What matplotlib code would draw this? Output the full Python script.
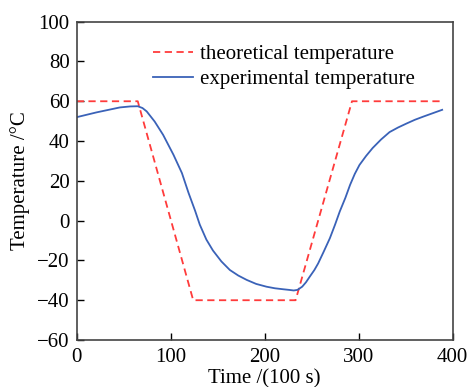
import matplotlib.pyplot as plt

# theoretical (set-point) temperature profile
t_theory = [0, 65, 124, 233, 293, 390]
T_theory = [60, 60, -40, -40, 60, 60]

t_exp = [0, 21, 46, 57, 65, 70, 74.5, 83, 92, 103, 112, 119, 126, 131, 138, 145,
         154, 163, 172, 181, 191, 202, 211, 220, 226, 231, 235, 240, 244, 248,
         253, 257, 263, 269.5, 275, 280, 286, 291, 296, 301, 308, 315, 324, 333,
         342, 351, 360, 369, 379, 389]
T_exp = [52.0, 54.4, 56.9, 57.4, 57.5, 56.6, 54.9, 49.8, 43.1, 33.1, 23.9, 14.0,
         5.0, -2.0, -9.5, -15.0, -20.5, -24.8, -27.6, -29.8, -31.8, -33.2, -34.0,
         -34.5, -34.8, -35.1, -34.8, -33.2, -31.0, -28.2, -24.8, -21.5, -15.5,
         -8.8, -2.0, 4.6, 11.5, 18.0, 23.5, 28.0, 32.5, 36.5, 40.8, 44.5, 46.8,
         48.8, 50.7, 52.3, 54.0, 55.7]

plt.rcParams['font.family'] = ['Liberation Serif', 'DejaVu Serif']

fig = plt.figure(figsize=(4.72, 3.87), dpi=100)
ax = fig.add_axes([0.1625, 0.1214, 0.7962, 0.8226])

ax.plot(t_theory, T_theory, "--", color="#ff3b3b", lw=1.3, dashes=(4, 2.5),
        label="theoretical temperature")
ax.plot(t_exp, T_exp, "-", color="#3a62b8", lw=1.3, label="experimental temperature")

ax.set_xlim(0, 400)
ax.set_ylim(-60, 100)
ax.set_xticks([0, 100, 200, 300, 400])
ax.set_yticks(range(-60, 101, 20))
ax.tick_params(direction="in", length=5, width=1, labelsize=15, top=False, right=False)
ax.tick_params(axis="x", pad=6)
ax.tick_params(axis="y", pad=5)
ax.set_yticklabels([str(v).replace("-", "\u2212") for v in range(-60, 101, 20)])

for s in ax.spines.values():
    s.set_color("#444444")
    s.set_linewidth(1.2)

ax.set_xlabel("Time /(100 s)", fontsize=15, labelpad=1)
ax.set_ylabel("Temperature /°C", fontsize=15, labelpad=5)

ax.legend(loc="upper left", bbox_to_anchor=(0.203, 0.927), frameon=False,
          borderaxespad=0, borderpad=0,
          fontsize=15, handlelength=1.9, handletextpad=0.35, labelspacing=0.25)

fig.savefig("out.png", dpi=100)
